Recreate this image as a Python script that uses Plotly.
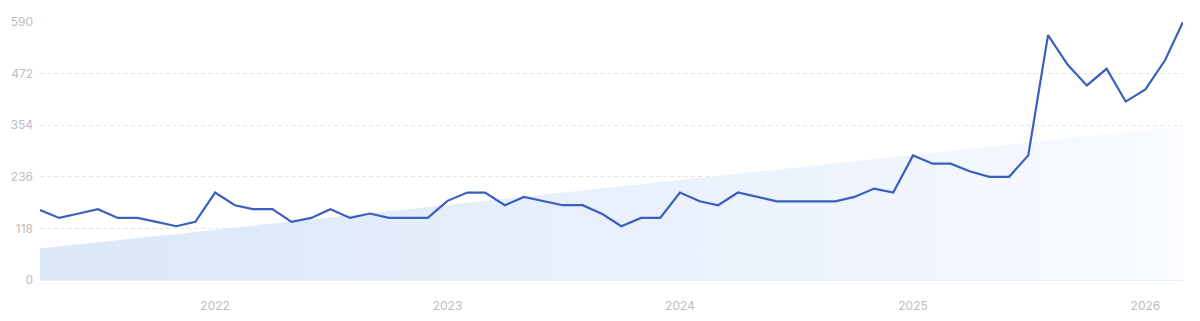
import plotly.graph_objects as go
import pandas as pd

months = pd.date_range("2021-04-01", "2026-03-01", freq="MS")
values = [160, 142, 152, 162, 142, 142, 133, 123, 133,
          200, 171, 162, 162, 133, 142, 162, 142, 152, 142, 142, 142,
          181, 200, 200, 171, 190, 180, 171, 171, 151, 123, 142, 142,
          200, 180, 171, 200, 190, 180, 180, 180, 180, 190, 209, 200,
          285, 266, 266, 248, 236, 236, 285, 560, 492, 445, 483, 408,
          436, 503, 590]
trend_dates = [months[0], months[-1]]
trend_values = [72, 352]
y_ticks = [0, 118, 236, 354, 472, 590]
x_ticks = ["2022-01-01", "2023-01-01", "2024-01-01", "2025-01-01", "2026-01-01"]
x_tick_labels = ["2022", "2023", "2024", "2025", "2026"]

fig = go.Figure()
fig.add_trace(go.Scatter(
    x=trend_dates, y=trend_values, mode="lines", line=dict(width=0),
    fill="tozeroy",
    fillgradient=dict(type="horizontal",
                      colorscale=[[0, "#dae7f9"], [0.6, "#ebf2fc"], [1, "#f9fbff"]]),
    hoverinfo="skip", showlegend=False))
fig.add_trace(go.Scatter(
    x=months, y=values, mode="lines",
    line=dict(color="#3a5fbd", width=2.2), showlegend=False))

fig.update_layout(
    width=1200, height=321,
    margin=dict(l=40, r=17, t=22, b=41, autoexpand=False),
    paper_bgcolor="white", plot_bgcolor="white",
    font=dict(family="Inter, Roboto, sans-serif", size=12, color="#bdbdbd"),
)
fig.update_xaxes(
    range=[months[0], months[-1]], tickvals=x_ticks, ticktext=x_tick_labels,
    showgrid=False, zeroline=False, showline=False, ticks="", automargin=False,
    ticklabelstandoff=17, tickfont=dict(size=12, color="#bdbdbd"))
fig.update_yaxes(
    range=[0, 590], tickvals=y_ticks, ticktext=[str(v) for v in y_ticks],
    showgrid=True, gridcolor="#e4e4e4", griddash="4px,3px", gridwidth=1,
    zeroline=True, zerolinecolor="#ececec", zerolinewidth=1, automargin=False,
    showline=False, ticks="", ticklabelstandoff=6,
    tickfont=dict(size=12, color="#bdbdbd"))

fig.write_html("out.html")
